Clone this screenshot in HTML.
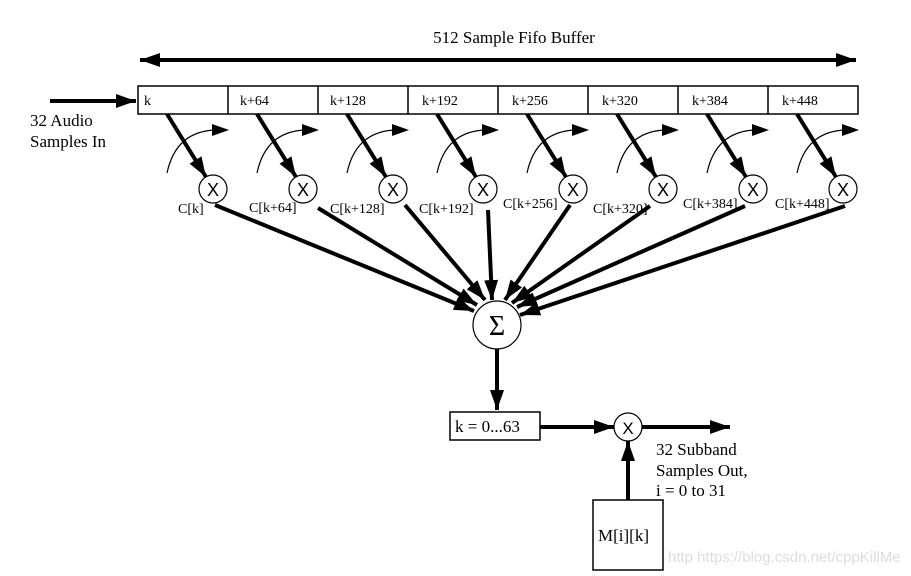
<!DOCTYPE html>
<html><head><style>
html,body{margin:0;padding:0;background:#fff;width:911px;height:576px;overflow:hidden}
text{font-family:"Liberation Serif",serif;fill:#000}
</style></head><body>
<svg id="s" width="911" height="576" xmlns="http://www.w3.org/2000/svg">
<defs>
<marker id="b" markerWidth="20" markerHeight="14" refX="20" refY="7" orient="auto" markerUnits="userSpaceOnUse"><path d="M0,0L20,7L0,14z" fill="#000"/></marker>
<marker id="c" markerWidth="20" markerHeight="14" refX="0" refY="7" orient="auto" markerUnits="userSpaceOnUse"><path d="M20,0L0,7L20,14z" fill="#000"/></marker>
</defs>
<text x="514" y="43" font-size="17" text-anchor="middle">512 Sample Fifo Buffer</text>
<line x1="140" y1="60" x2="856" y2="60" stroke="#000" stroke-width="4" marker-start="url(#c)" marker-end="url(#b)"/>
<line x1="50" y1="101" x2="136" y2="101" stroke="#000" stroke-width="4" marker-end="url(#b)"/>
<text x="30" y="126" font-size="17">32 Audio</text>
<text x="30" y="147" font-size="17">Samples In</text>
<rect x="138" y="86" width="720" height="28" fill="none" stroke="#000" stroke-width="1.5"/>
<g id="g"></g>
<circle cx="497" cy="325" r="24" fill="#fff" stroke="#000" stroke-width="1.2"/>
<text x="497" y="335" font-size="28" text-anchor="middle">Σ</text>
<line x1="497" y1="349" x2="497" y2="410" stroke="#000" stroke-width="4" marker-end="url(#b)"/>
<rect x="450" y="412" width="90" height="28" fill="#fff" stroke="#000" stroke-width="1.5"/>
<text x="455" y="432" font-size="17">k = 0...63</text>
<line x1="540" y1="427" x2="614" y2="427" stroke="#000" stroke-width="4" marker-end="url(#b)"/>
<circle cx="628" cy="427" r="14" fill="#fff" stroke="#000" stroke-width="1.2"/>
<text x="628" y="434" font-size="17" text-anchor="middle" style="font-family:'Liberation Sans',sans-serif">X</text>
<line x1="642" y1="427" x2="730" y2="427" stroke="#000" stroke-width="4" marker-end="url(#b)"/>
<text x="656" y="455" font-size="17">32 Subband</text>
<text x="656" y="476" font-size="17">Samples Out,</text>
<text x="656" y="496" font-size="17">i = 0 to 31</text>
<line x1="628" y1="500" x2="628" y2="441" stroke="#000" stroke-width="4" marker-end="url(#b)"/>
<rect x="593" y="500" width="70" height="70" fill="#fff" stroke="#000" stroke-width="1.5"/>
<text x="598" y="541" font-size="17">M[i][k]</text>
<text x="668" y="562" font-size="15" style="font-family:'Liberation Sans',sans-serif;fill:#ddd">http https://blog.csdn.net/cppKillMe</text>
</svg>
<script>
var g=document.getElementById('g'),h='';
var labs=['k','k+64','k+128','k+192','k+256','k+320','k+384','k+448'];
var cl=[[178,213],[249,212],[330,213],[419,213],[503,208],[593,213],[683,208],[775,208]];
var st=[[215,205],[318,208],[405,205],[488,210],[570,205],[650,206],[745,206],[845,206]];
var en=[[474,311],[477,305],[485,300],[492,300],[505,300],[512,303],[517,307],[520,315]];
for(var i=0;i<8;i++){
 var x=138+90*i;
 if(i>0)h+='<line x1="'+x+'" y1="86" x2="'+x+'" y2="114" stroke="#000" stroke-width="1.5"/>';
 h+='<text x="'+(x+(i==0?6:(i<3?12:14)))+'" y="105" font-size="14">'+labs[i]+'</text>';
 var cx=x+75,cy=189;
 h+='<path d="M'+(x+29)+',173 Q'+(x+38)+',131 '+(x+78)+',130" fill="none" stroke="#000" stroke-width="1.2"/>';
 h+='<path d="M'+(x+74)+',124 L'+(x+91)+',130 L'+(x+74)+',136z" fill="#000"/>';
 h+='<line x1="'+(x+29)+'" y1="114" x2="'+(cx-7)+'" y2="'+(cy-12)+'" stroke="#000" stroke-width="4" marker-end="url(#b)"/>';
 h+='<line x1="'+st[i][0]+'" y1="'+st[i][1]+'" x2="'+en[i][0]+'" y2="'+en[i][1]+'" stroke="#000" stroke-width="4" marker-end="url(#b)"/>';
 h+='<circle cx="'+cx+'" cy="'+cy+'" r="14" fill="#fff" stroke="#000" stroke-width="1.2"/>';
 h+='<text x="'+cx+'" y="'+(cy+7)+'" font-size="18" text-anchor="middle" style="font-family:\'Liberation Sans\',sans-serif">X</text>';
 h+='<text x="'+cl[i][0]+'" y="'+cl[i][1]+'" font-size="14">C['+labs[i]+']</text>';
}
g.innerHTML=h;
</script>
</body></html>
